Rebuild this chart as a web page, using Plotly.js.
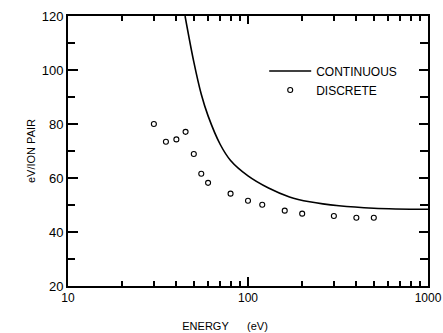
<!DOCTYPE html>
<html>
<head>
<meta charset="utf-8">
<script src="https://cdn.plot.ly/plotly-3.0.1.min.js"></script>
<style>html,body{margin:0;padding:0;background:#fff;}#chart{width:443px;height:333px;}.modebar-container,.modebar{display:none !important;}</style>
</head>
<body>
<div id="chart"></div>
<script>
// Continuous curve (energy in eV, eV per ion pair)
const contEnergy = [44.7, 50, 55, 60, 70, 80, 100, 130, 170, 220, 320, 500, 1000];
const contEvPerPair = [120, 103, 91, 83, 72.5, 66.5, 60.8, 56.3, 53, 51.2, 49.7, 48.8, 48.4];

// Discrete points
const discEnergy = [30, 35, 40, 45, 50, 55, 60, 80, 100, 120, 160, 200, 300, 400, 500];
const discEvPerPair = [80, 73.4, 74.3, 77.1, 68.9, 61.6, 58.2, 54.2, 51.6, 50.1, 47.9, 46.8, 45.9, 45.3, 45.3];

// Tick positions and labels
const xMajorTicks = [10, 100, 1000];
const xMajorLabels = ['10', '100', '1000'];
const xMinorTicks = [20, 30, 40, 50, 60, 70, 80, 90, 200, 300, 400, 500, 600, 700, 800, 900];
const yMajorTicks = [20, 40, 60, 80, 100, 120];
const yMinorTicks = [30, 50, 70, 90, 110];

const TICK = '#000';
const font = {family: 'Liberation Sans, Arial, sans-serif', color: '#000'};
const f = (s) => Object.assign({size: s}, font);

const traces = [
  {x: contEnergy, y: contEvPerPair, type: 'scatter', mode: 'lines', name: 'CONTINUOUS',
   line: {color: '#000', width: 1.6, shape: 'spline', smoothing: 1}},
  {x: discEnergy, y: discEvPerPair, type: 'scatter', mode: 'markers', name: 'DISCRETE',
   marker: {symbol: 'circle-open', size: 5, color: '#000', line: {width: 1.1, color: '#000'}}}
];
// invisible helper traces so every tick-only overlay axis is drawn
[['x2', 'y2'], ['x3', 'y3'], ['x4', 'y4']].forEach(([xa, ya]) => {
  traces.push({x: [10], y: [20], xaxis: xa, yaxis: ya, type: 'scatter', mode: 'markers',
    marker: {opacity: 0}, showlegend: false, hoverinfo: 'skip'});
});

const tickAxisX = (side, vals, len, line) => ({
  type: 'log', range: [1, 3], overlaying: 'x', anchor: 'y', side: side,
  tickvals: vals, showticklabels: false,
  ticks: 'inside', ticklen: len, tickwidth: 2, tickcolor: TICK,
  showline: !!line, linewidth: 2, linecolor: '#000', showgrid: false, zeroline: false
});
const tickAxisY = (side, vals, len) => ({
  range: [20, 120], overlaying: 'y', anchor: 'x', side: side,
  tickvals: vals, showticklabels: false,
  ticks: 'inside', ticklen: len, tickwidth: 2, tickcolor: TICK,
  showline: false, showgrid: false, zeroline: false
});

const layout = {
  width: 443, height: 333,
  margin: {l: 68, r: 15, t: 16, b: 47},
  font: f(12),
  legend: {x: 0.545, y: 0.85, xanchor: 'left', yanchor: 'top', itemwidth: 42, font: f(12)},
  xaxis: {
    type: 'log', range: [1, 3],
    tickvals: xMajorTicks, ticktext: xMajorLabels,
    ticks: 'inside', ticklen: 9, tickwidth: 2, tickcolor: TICK,
    showline: true, linewidth: 2, linecolor: '#000',
    showgrid: false, zeroline: false, tickfont: f(12),
    title: {text: 'ENERGY&nbsp;&nbsp;&nbsp;&nbsp;&nbsp;&nbsp;(eV)&nbsp;&nbsp;&nbsp;&nbsp;&nbsp;&nbsp;&nbsp;&nbsp;&nbsp;&nbsp;&nbsp;&nbsp;&nbsp;&nbsp;&nbsp;', font: f(11)}
  },
  xaxis2: tickAxisX('bottom', xMinorTicks, 5, false),
  xaxis3: tickAxisX('top', xMajorTicks, 8, true),
  xaxis4: tickAxisX('top', xMinorTicks, 5, false),
  yaxis: {
    range: [20, 120],
    tickvals: yMajorTicks,
    ticks: 'inside', ticklen: 10, tickwidth: 2, tickcolor: TICK,
    showline: true, linewidth: 2, linecolor: '#000', mirror: true,
    showgrid: false, zeroline: false, tickfont: f(13),
    title: {text: 'eV/ION PAIR', font: f(11)}
  },
  yaxis2: tickAxisY('left', yMinorTicks, 7),
  yaxis3: tickAxisY('right', yMajorTicks, 9),
  yaxis4: tickAxisY('right', yMinorTicks, 8)
};

Plotly.newPlot('chart', traces, layout);
</script>
</body>
</html>
